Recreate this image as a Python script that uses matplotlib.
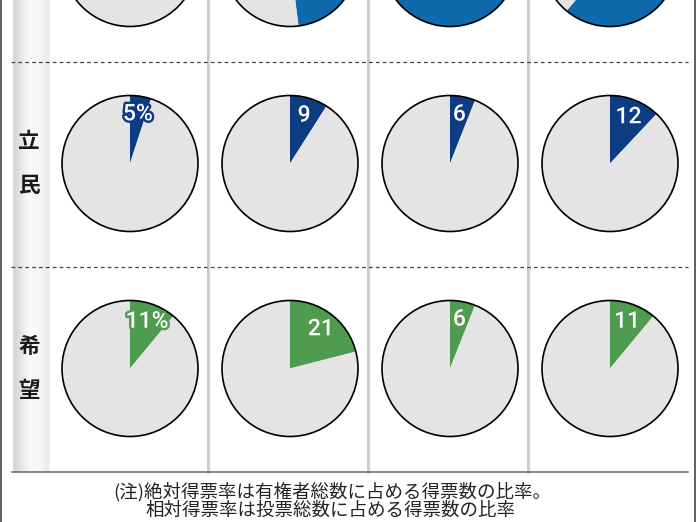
import matplotlib
matplotlib.use("Agg")
import matplotlib.pyplot as plt
import matplotlib.patheffects as pe
import numpy as np
from matplotlib.patches import Circle

plt.rcParams["font.family"] = ["Noto Sans CJK JP", "DejaVu Sans"]

# data: vote / seat share (%) per column
parties = ["自民", "立民", "希望"]
jimin = [25, 48, 75, 61]
rikken = [5, 9, 6, 12]
kibou = [11, 21, 6, 11]
values = [jimin, rikken, kibou]
note_lines = ["(注)絶対得票率は有権者総数に占める得票数の比率。",
              "相対得票率は投票総数に占める得票数の比率"]

party_colors = ["#1069aa", "#0e3c82", "#4f9b4f"]
stroke_colors = ["#0b3a78", "#0e3c82", "#4f9b4f"]
rest_color = "#e4e4e4"

W, H = 696, 522
col_x = [130, 290, 450, 610]
row_y = [-41.5, 163.5, 368.5]
R = 68


def Y(y):
    return H - y


fig = plt.figure(figsize=(W / 100, H / 100), dpi=100)
ax = fig.add_axes([0, 0, 1, 1])

# left shaded band
grad = np.array([[0.84, 0.88, 0.94, 0.97, 0.975, 0.965, 0.95, 0.92]])
ax.imshow(grad, cmap="gray", vmin=0, vmax=1, aspect="auto",
          extent=(13, 50, Y(472), Y(0)), interpolation="bicubic", zorder=0)

# column separators
for x in [208, 368, 528]:
    ax.plot([x, x], [Y(0), Y(472)], color="#c6c6c6", lw=2.0, zorder=1)
    ax.plot([x + 1.8, x + 1.8], [Y(0), Y(472)], color="#e6e6e6", lw=1.2, zorder=1)

# dotted row separators
for y in [62, 267]:
    ax.plot([11, 688], [Y(y), Y(y)], color="#444444", lw=0.9,
            dashes=(3, 2.5), zorder=1)

# bottom rule
ax.plot([12, 688], [Y(472), Y(472)], color="#666666", lw=1.1, zorder=1)

# outer frame
ax.plot([1, 1], [0, H], color="#444444", lw=1.2, zorder=5)
ax.plot([694.5, 694.5], [0, H], color="#444444", lw=1.2, zorder=5)

for r, (party, vals) in enumerate(zip(parties, values)):
    cy = row_y[r]
    visible = cy > 0  # top row is cut off by the crop: no text there
    if visible:
        for ch, dy in zip(party, [-22, 22]):
            ax.text(29, Y(cy + dy), ch, ha="center", va="center", fontsize=15.5,
                    fontweight="bold", color="#1a1a1a", zorder=4)
    for c, v in enumerate(vals):
        label = f"{v}%" if c == 0 else f"{v}"
        wedges, texts = ax.pie(
            [v, 100 - v],
            labels=[label if visible else "", ""],
            colors=[party_colors[r], rest_color],
            center=(col_x[c], Y(cy)),
            radius=R,
            startangle=90,
            counterclock=False,
            labeldistance=0.74,
            wedgeprops={"linewidth": 0},
            frame=True,
        )
        for t in texts:
            t.set_ha("center")
            t.set_va("center")
            t.set_color("white")
            t.set_fontsize(16.5)
            t.set_family(["Liberation Sans Narrow", "Roboto", "DejaVu Sans"])
            t.set_fontweight("medium")
            t.set_zorder(6)
            t.set_path_effects([pe.withStroke(linewidth=3.5, foreground=stroke_colors[r])])
        ax.add_patch(Circle((col_x[c], Y(cy)), R, fill=False, ec="black",
                            lw=1.2, zorder=3))

ax.text(332, Y(492), note_lines[0], ha="center", va="center", fontsize=13.3,
        color="#222222")
ax.text(330, Y(511), note_lines[1], ha="center", va="center", fontsize=13.3,
        color="#222222")

ax.set_xlim(0, W)
ax.set_ylim(0, H)
ax.set_aspect("auto")
ax.axis("off")

fig.savefig("out.png", dpi=100)
